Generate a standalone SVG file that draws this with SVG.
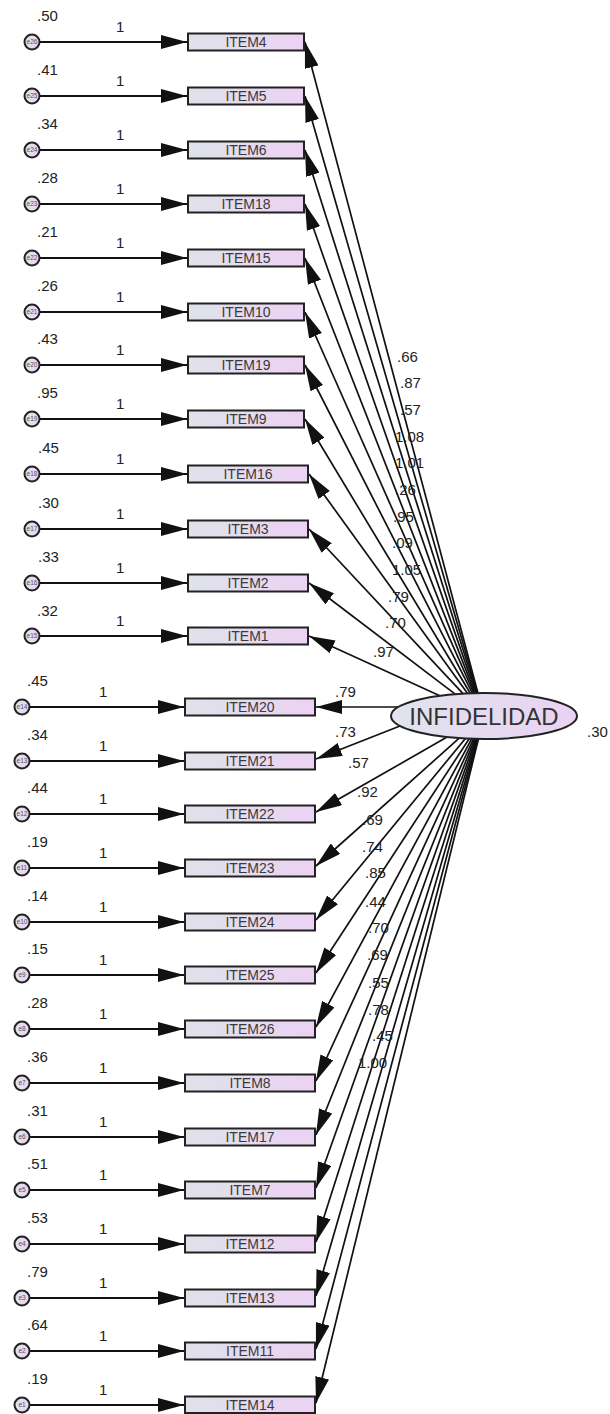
<svg xmlns="http://www.w3.org/2000/svg" width="610" height="1414" viewBox="0 0 610 1414">
<defs>
<linearGradient id="gBox" x1="0" y1="0" x2="1" y2="0">
<stop offset="0" stop-color="#dfe2ea"/><stop offset="1" stop-color="#ecd2f3"/>
</linearGradient>
<linearGradient id="gEll" x1="0" y1="0" x2="1" y2="0">
<stop offset="0" stop-color="#e1e4ee"/><stop offset="1" stop-color="#ead2f3"/>
</linearGradient>
<marker id="arr" markerUnits="userSpaceOnUse" markerWidth="26" markerHeight="14" refX="26" refY="7" orient="auto">
<path d="M0,0 L26,7 L0,14 z" fill="#111"/>
</marker>
<style>
.obs{fill:url(#gBox);stroke:#222;stroke-width:2}
.err{fill:url(#gEll);stroke:#222;stroke-width:2}
.lat{fill:url(#gEll);stroke:#222;stroke-width:2}
.h{stroke:#111;stroke-width:2;fill:none;marker-end:url(#arr)}
.d{stroke:#111;stroke-width:1.7;fill:none;marker-end:url(#arr)}
.it{font-family:"Liberation Sans",Arial,sans-serif;font-size:14px;fill:#3a3a3a;text-anchor:middle}
.et{font-family:"Liberation Sans",Arial,sans-serif;font-size:6.5px;fill:#555;text-anchor:middle}
.lb{font-family:"Liberation Sans",Arial,sans-serif;font-size:15px;fill:#222}
.big{font-family:"Liberation Sans",Arial,sans-serif;font-size:24px;fill:#333;text-anchor:middle}
</style>
</defs>
<rect width="610" height="1414" fill="#fff"/>

<g id="connectors">
<!-- error to item -->
<line class="h" x1="40" y1="42" x2="187" y2="42"/>
<line class="h" x1="40" y1="96" x2="187" y2="96"/>
<line class="h" x1="40" y1="150" x2="187" y2="150"/>
<line class="h" x1="40" y1="204" x2="187" y2="204"/>
<line class="h" x1="40" y1="258" x2="187" y2="258"/>
<line class="h" x1="40" y1="312" x2="187" y2="312"/>
<line class="h" x1="40" y1="365" x2="187" y2="365"/>
<line class="h" x1="40" y1="419" x2="187" y2="419"/>
<line class="h" x1="40" y1="474" x2="187" y2="474"/>
<line class="h" x1="40" y1="529" x2="187" y2="529"/>
<line class="h" x1="40" y1="583" x2="187" y2="583"/>
<line class="h" x1="40" y1="636" x2="187" y2="636"/>
<line class="h" x1="30" y1="707" x2="184" y2="707"/>
<line class="h" x1="30" y1="761" x2="184" y2="761"/>
<line class="h" x1="30" y1="814" x2="184" y2="814"/>
<line class="h" x1="30" y1="868" x2="184" y2="868"/>
<line class="h" x1="30" y1="922" x2="184" y2="922"/>
<line class="h" x1="30" y1="975" x2="184" y2="975"/>
<line class="h" x1="30" y1="1029" x2="184" y2="1029"/>
<line class="h" x1="30" y1="1083" x2="184" y2="1083"/>
<line class="h" x1="30" y1="1137" x2="184" y2="1137"/>
<line class="h" x1="30" y1="1190" x2="184" y2="1190"/>
<line class="h" x1="30" y1="1244" x2="184" y2="1244"/>
<line class="h" x1="30" y1="1298" x2="184" y2="1298"/>
<line class="h" x1="30" y1="1351" x2="184" y2="1351"/>
<line class="h" x1="30" y1="1405" x2="184" y2="1405"/>
<!-- latent to items -->
<line class="d" x1="477.9" y1="693" x2="305" y2="42"/>
<line class="d" x1="477.4" y1="693.1" x2="305" y2="96"/>
<line class="d" x1="476.8" y1="693.1" x2="305" y2="150"/>
<line class="d" x1="476" y1="693.1" x2="305" y2="204"/>
<line class="d" x1="475" y1="693.1" x2="305" y2="258"/>
<line class="d" x1="473.9" y1="693.1" x2="305" y2="312"/>
<line class="d" x1="472.4" y1="693.2" x2="305" y2="365"/>
<line class="d" x1="470.3" y1="693.3" x2="305" y2="419"/>
<line class="d" x1="467.6" y1="693.4" x2="309" y2="474"/>
<line class="d" x1="463" y1="693.6" x2="309" y2="529"/>
<line class="d" x1="455.2" y1="694.1" x2="309" y2="583"/>
<line class="d" x1="439.8" y1="695.8" x2="309" y2="636"/>
<line class="d" x1="398.4" y1="707" x2="316" y2="707"/>
<line class="d" x1="400" y1="726" x2="316" y2="759"/>
<line class="d" x1="447.1" y1="737.1" x2="316" y2="812"/>
<line class="d" x1="459.2" y1="738.2" x2="316" y2="866"/>
<line class="d" x1="465.4" y1="738.5" x2="316" y2="920"/>
<line class="d" x1="469.2" y1="738.7" x2="316" y2="973"/>
<line class="d" x1="471.7" y1="738.8" x2="316" y2="1027"/>
<line class="d" x1="473.5" y1="738.85" x2="316" y2="1081"/>
<line class="d" x1="474.8" y1="738.9" x2="316" y2="1135"/>
<line class="d" x1="475.85" y1="738.9" x2="316" y2="1188"/>
<line class="d" x1="476.7" y1="738.9" x2="316" y2="1242"/>
<line class="d" x1="477.35" y1="738.95" x2="316" y2="1296"/>
<line class="d" x1="477.9" y1="738.95" x2="316" y2="1349"/>
<line class="d" x1="478.4" y1="738.95" x2="316" y2="1403"/>
</g>

<g id="path-labels" class="lb">
<text x="116" y="32">1</text><text x="116" y="86">1</text><text x="116" y="140">1</text><text x="116" y="194">1</text>
<text x="116" y="248">1</text><text x="116" y="302">1</text><text x="116" y="355">1</text><text x="116" y="409">1</text>
<text x="116" y="464">1</text><text x="116" y="519">1</text><text x="116" y="573">1</text><text x="116" y="626">1</text>
<text x="99" y="697">1</text><text x="99" y="751">1</text><text x="99" y="804">1</text><text x="99" y="858">1</text>
<text x="99" y="912">1</text><text x="99" y="965">1</text><text x="99" y="1019">1</text><text x="99" y="1073">1</text>
<text x="99" y="1127">1</text><text x="99" y="1180">1</text><text x="99" y="1234">1</text><text x="99" y="1288">1</text>
<text x="99" y="1341">1</text><text x="99" y="1395">1</text>
<text x="397" y="362">.66</text><text x="400" y="388">.87</text><text x="400" y="415">.57</text><text x="395" y="442">1.08</text>
<text x="395" y="468">1.01</text><text x="395" y="495">.26</text><text x="393" y="522">.95</text><text x="392" y="548">.09</text>
<text x="392" y="575">1.05</text><text x="388" y="602">.79</text><text x="385" y="628">.70</text><text x="373" y="657">.97</text>
<text x="335" y="697">.79</text><text x="335" y="737">.73</text><text x="348" y="768">.57</text><text x="357" y="797">.92</text>
<text x="362" y="825">.69</text><text x="362" y="852">.74</text><text x="365" y="878">.85</text><text x="365" y="907">.44</text>
<text x="368" y="933">.70</text><text x="367" y="960">.69</text><text x="368" y="988">.55</text><text x="368" y="1015">.78</text>
<text x="372" y="1041">.45</text><text x="358" y="1068">1.00</text>
</g>

<g id="INFIDELIDAD">
<ellipse class="lat" cx="484" cy="716" rx="93" ry="23"/>
<text class="big" x="484" y="725">INFIDELIDAD</text>
<text class="lb" x="587" y="737">.30</text>
</g>

<g id="ITEM4"><rect class="obs" x="188" y="33.5" width="116" height="17"/><text class="it" x="246" y="47">ITEM4</text></g>
<g id="ITEM5"><rect class="obs" x="188" y="87.5" width="116" height="17"/><text class="it" x="246" y="101">ITEM5</text></g>
<g id="ITEM6"><rect class="obs" x="188" y="141.5" width="116" height="17"/><text class="it" x="246" y="155">ITEM6</text></g>
<g id="ITEM18"><rect class="obs" x="188" y="195.5" width="116" height="17"/><text class="it" x="246" y="209">ITEM18</text></g>
<g id="ITEM15"><rect class="obs" x="188" y="249.5" width="116" height="17"/><text class="it" x="246" y="263">ITEM15</text></g>
<g id="ITEM10"><rect class="obs" x="188" y="303.5" width="116" height="17"/><text class="it" x="246" y="317">ITEM10</text></g>
<g id="ITEM19"><rect class="obs" x="188" y="356.5" width="116" height="17"/><text class="it" x="246" y="370">ITEM19</text></g>
<g id="ITEM9"><rect class="obs" x="188" y="410.5" width="116" height="17"/><text class="it" x="246" y="424">ITEM9</text></g>
<g id="ITEM16"><rect class="obs" x="188" y="465.5" width="120" height="17"/><text class="it" x="248" y="479">ITEM16</text></g>
<g id="ITEM3"><rect class="obs" x="188" y="520.5" width="120" height="17"/><text class="it" x="248" y="534">ITEM3</text></g>
<g id="ITEM2"><rect class="obs" x="188" y="574.5" width="120" height="17"/><text class="it" x="248" y="588">ITEM2</text></g>
<g id="ITEM1"><rect class="obs" x="188" y="627.5" width="120" height="17"/><text class="it" x="248" y="641">ITEM1</text></g>
<g id="ITEM20"><rect class="obs" x="185" y="698.5" width="130" height="17"/><text class="it" x="250" y="712">ITEM20</text></g>
<g id="ITEM21"><rect class="obs" x="185" y="752.5" width="130" height="17"/><text class="it" x="250" y="766">ITEM21</text></g>
<g id="ITEM22"><rect class="obs" x="185" y="805.5" width="130" height="17"/><text class="it" x="250" y="819">ITEM22</text></g>
<g id="ITEM23"><rect class="obs" x="185" y="859.5" width="130" height="17"/><text class="it" x="250" y="873">ITEM23</text></g>
<g id="ITEM24"><rect class="obs" x="185" y="913.5" width="130" height="17"/><text class="it" x="250" y="927">ITEM24</text></g>
<g id="ITEM25"><rect class="obs" x="185" y="966.5" width="130" height="17"/><text class="it" x="250" y="980">ITEM25</text></g>
<g id="ITEM26"><rect class="obs" x="185" y="1020.5" width="130" height="17"/><text class="it" x="250" y="1034">ITEM26</text></g>
<g id="ITEM8"><rect class="obs" x="185" y="1074.5" width="130" height="17"/><text class="it" x="250" y="1088">ITEM8</text></g>
<g id="ITEM17"><rect class="obs" x="185" y="1128.5" width="130" height="17"/><text class="it" x="250" y="1142">ITEM17</text></g>
<g id="ITEM7"><rect class="obs" x="185" y="1181.5" width="130" height="17"/><text class="it" x="250" y="1195">ITEM7</text></g>
<g id="ITEM12"><rect class="obs" x="185" y="1235.5" width="130" height="17"/><text class="it" x="250" y="1249">ITEM12</text></g>
<g id="ITEM13"><rect class="obs" x="185" y="1289.5" width="130" height="17"/><text class="it" x="250" y="1303">ITEM13</text></g>
<g id="ITEM11"><rect class="obs" x="185" y="1342.5" width="130" height="17"/><text class="it" x="250" y="1356">ITEM11</text></g>
<g id="ITEM14"><rect class="obs" x="185" y="1396.5" width="130" height="16.5"/><text class="it" x="250" y="1410">ITEM14</text></g>

<g id="e26"><circle class="err" cx="32" cy="42" r="7.5"/><text class="et" x="32" y="44.3">e26</text><text class="lb" x="37" y="21">.50</text></g>
<g id="e25"><circle class="err" cx="32" cy="96" r="7.5"/><text class="et" x="32" y="98.3">e25</text><text class="lb" x="37" y="75">.41</text></g>
<g id="e24"><circle class="err" cx="32" cy="150" r="7.5"/><text class="et" x="32" y="152.3">e24</text><text class="lb" x="37" y="129">.34</text></g>
<g id="e23"><circle class="err" cx="32" cy="204" r="7.5"/><text class="et" x="32" y="206.3">e23</text><text class="lb" x="37" y="183">.28</text></g>
<g id="e22"><circle class="err" cx="32" cy="258" r="7.5"/><text class="et" x="32" y="260.3">e22</text><text class="lb" x="37" y="237">.21</text></g>
<g id="e21"><circle class="err" cx="32" cy="312" r="7.5"/><text class="et" x="32" y="314.3">e21</text><text class="lb" x="37" y="291">.26</text></g>
<g id="e20"><circle class="err" cx="32" cy="365" r="7.5"/><text class="et" x="32" y="367.3">e20</text><text class="lb" x="37" y="344">.43</text></g>
<g id="e19"><circle class="err" cx="32" cy="419" r="7.5"/><text class="et" x="32" y="421.3">e19</text><text class="lb" x="37" y="398">.95</text></g>
<g id="e18"><circle class="err" cx="32" cy="474" r="7.5"/><text class="et" x="32" y="476.3">e18</text><text class="lb" x="38" y="453">.45</text></g>
<g id="e17"><circle class="err" cx="32" cy="529" r="7.5"/><text class="et" x="32" y="531.3">e17</text><text class="lb" x="38" y="508">.30</text></g>
<g id="e16"><circle class="err" cx="32" cy="583" r="7.5"/><text class="et" x="32" y="585.3">e16</text><text class="lb" x="38" y="562">.33</text></g>
<g id="e15"><circle class="err" cx="32" cy="636" r="7.5"/><text class="et" x="32" y="638.3">e15</text><text class="lb" x="37" y="616">.32</text></g>
<g id="e14"><circle class="err" cx="22" cy="707" r="7.5"/><text class="et" x="22" y="709.3">e14</text><text class="lb" x="27" y="686">.45</text></g>
<g id="e13"><circle class="err" cx="22" cy="761" r="7.5"/><text class="et" x="22" y="763.3">e13</text><text class="lb" x="27" y="740">.34</text></g>
<g id="e12"><circle class="err" cx="22" cy="814" r="7.5"/><text class="et" x="22" y="816.3">e12</text><text class="lb" x="27" y="793">.44</text></g>
<g id="e11"><circle class="err" cx="22" cy="868" r="7.5"/><text class="et" x="22" y="870.3">e11</text><text class="lb" x="27" y="847">.19</text></g>
<g id="e10"><circle class="err" cx="22" cy="922" r="7.5"/><text class="et" x="22" y="924.3">e10</text><text class="lb" x="27" y="901">.14</text></g>
<g id="e9"><circle class="err" cx="22" cy="975" r="7.5"/><text class="et" x="22" y="977.3">e9</text><text class="lb" x="27" y="954">.15</text></g>
<g id="e8"><circle class="err" cx="22" cy="1029" r="7.5"/><text class="et" x="22" y="1031.3">e8</text><text class="lb" x="27" y="1008">.28</text></g>
<g id="e7"><circle class="err" cx="22" cy="1083" r="7.5"/><text class="et" x="22" y="1085.3">e7</text><text class="lb" x="27" y="1062">.36</text></g>
<g id="e6"><circle class="err" cx="22" cy="1137" r="7.5"/><text class="et" x="22" y="1139.3">e6</text><text class="lb" x="27" y="1116">.31</text></g>
<g id="e5"><circle class="err" cx="22" cy="1190" r="7.5"/><text class="et" x="22" y="1192.3">e5</text><text class="lb" x="27" y="1169">.51</text></g>
<g id="e4"><circle class="err" cx="22" cy="1244" r="7.5"/><text class="et" x="22" y="1246.3">e4</text><text class="lb" x="27" y="1223">.53</text></g>
<g id="e3"><circle class="err" cx="22" cy="1298" r="7.5"/><text class="et" x="22" y="1300.3">e3</text><text class="lb" x="27" y="1277">.79</text></g>
<g id="e2"><circle class="err" cx="22" cy="1351" r="7.5"/><text class="et" x="22" y="1353.3">e2</text><text class="lb" x="27" y="1330">.64</text></g>
<g id="e1"><circle class="err" cx="22" cy="1405" r="7.5"/><text class="et" x="22" y="1407.3">e1</text><text class="lb" x="27" y="1384">.19</text></g>
</svg>
